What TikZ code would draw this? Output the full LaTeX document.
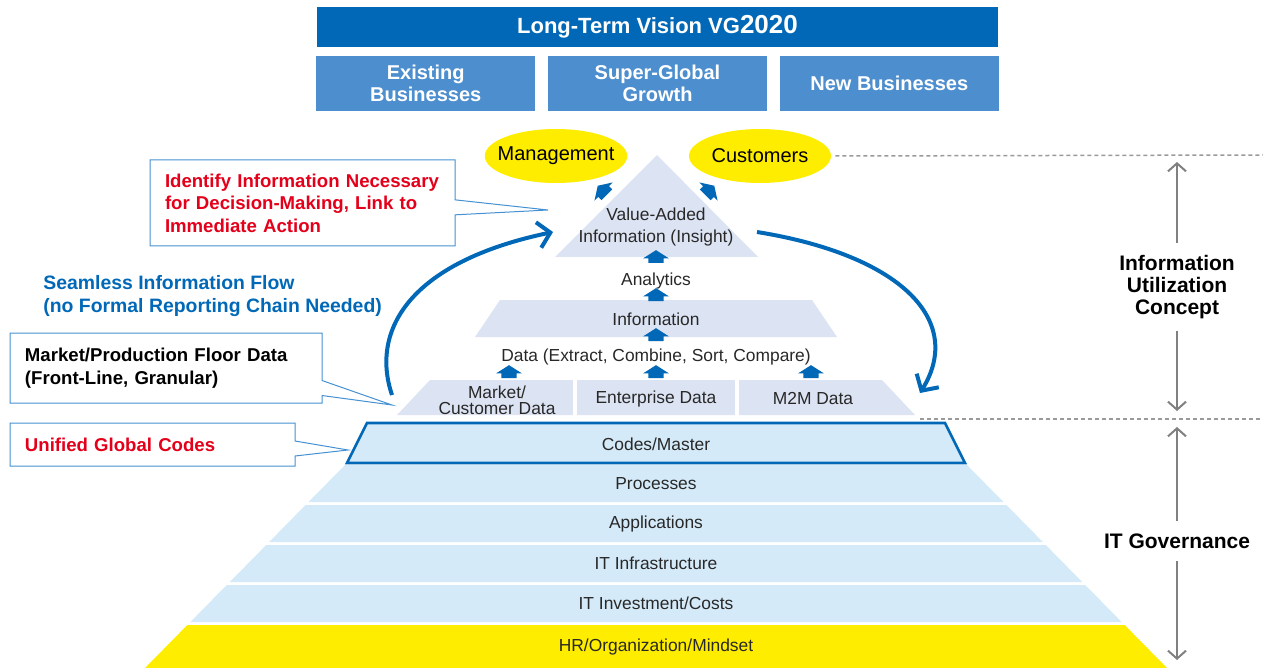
\documentclass[tikz,border=0pt]{standalone}
\usepackage{fontspec}
\setmainfont{Liberation Sans}
\usetikzlibrary{shapes.geometric,shapes.arrows,shapes.callouts,arrows.meta,positioning,calc}

\definecolor{vgblue}{RGB}{0,104,183}
\definecolor{boxblue}{RGB}{77,143,206}
\definecolor{lav}{RGB}{220,227,243}
\definecolor{itblue}{RGB}{213,234,248}
\definecolor{vgyellow}{RGB}{255,237,0}
\definecolor{vgred}{RGB}{228,0,26}
\definecolor{rimblue}{RGB}{70,145,210}
\definecolor{txtgray}{RGB}{40,40,40}
\definecolor{spangray}{RGB}{128,128,128}

\begin{document}
\begin{tikzpicture}[
  x=0.5pt,y=-0.5pt,
  vision/.style={fill=vgblue,text=white,font=\bfseries\fontsize{11}{13}\selectfont,minimum width=340.5pt,minimum height=20pt,inner sep=0pt},
  pillar/.style={fill=boxblue,text=white,font=\bfseries\fontsize{10}{11}\selectfont,minimum width=109.5pt,minimum height=27.5pt,align=center,inner sep=0pt},
  target/.style={ellipse,fill=vgyellow,minimum width=71pt,minimum height=27pt,font=\fontsize{10}{12}\selectfont,inner xsep=-4pt,inner ysep=0pt},
  layer/.style={font=\fontsize{8.7}{11}\selectfont,text=txtgray,align=center,inner sep=0pt},
  uparrow/.style={single arrow,fill=vgblue,inner xsep=1.8pt,inner ysep=3.6pt,single arrow head extend=2.6pt,single arrow tip angle=115,rotate=90},
  note/.style={rectangle callout,draw=rimblue,fill=white,line width=0.5pt,align=left,font=\bfseries\fontsize{9.3}{11.3}\selectfont,inner xsep=7.5pt,callout pointer width=7.5pt},
  flow/.style={vgblue,line width=2pt,-{Straight Barb[length=6pt,width=13pt]}},
  span/.style={spangray,line width=1pt,-{Straight Barb[length=4pt,width=9pt]}},
  side/.style={font=\bfseries\fontsize{10.5}{10.8}\selectfont,align=center,inner sep=6pt},
  guide/.style={spangray!80,line width=0.75pt,dash pattern=on 2pt off 1.5pt},
]
\useasboundingbox (0,0) rectangle (1263,668);

% vision header
\node[vision] (vg) at (657.5,27) {Long-Term Vision VG{\fontsize{13}{13}\selectfont 2020}};
\node[pillar] (sgg)   [below=4pt of vg]   {Super-Global\\Growth};
\node[pillar] (exist) [left=6pt of sgg]   {Existing\\Businesses};
\node[pillar] (newb)  [right=6pt of sgg]  {New Businesses};

% shapes of the two pyramids
\fill[lav] (657,155) -- (758,257) -- (555,257) -- cycle;
\fill[lav] (500,300) -- (812,300) -- (837,337) -- (475,337) -- cycle;
\fill[lav] (430,380) -- (882,380) -- (915,415) -- (397,415) -- cycle;
\draw[white,line width=2pt] (575,378) -- (575,417) (737,378) -- (737,417);

\foreach \yt/\yb/\lbl/\col in {465/502/Processes/itblue,505/542/Applications/itblue,
    545/582/IT Infrastructure/itblue,585/622/{IT Investment/Costs}/itblue,
    625/668/{HR/Organization/Mindset}/vgyellow}{
  \pgfmathsetmacro\xtl{803-0.985*\yt}
  \pgfmathsetmacro\xbl{803-0.985*\yb}
  \pgfmathsetmacro\xtr{1312-\xtl}
  \pgfmathsetmacro\xbr{1312-\xbl}
  \fill[\col] (\xtl,\yt) -- (\xtr,\yt) -- (\xbr,\yb) -- (\xbl,\yb) -- cycle;
  \node[layer] (band\yt) at (656,{(\yt+\yb)/2}) {\lbl};
}
\draw[vgblue,line width=1.3pt,fill=itblue] (367,423) -- (945,423) -- (965,463) -- (347,463) -- cycle;
\node[layer] (codes) at (656,444) {Codes/Master};

% top: insight and who uses it
\node[target] (mgmt) at (556,156) {Management};
\node[target] (cust) at (760,156) {Customers};
\node[layer] (insight) at (656,227) {Value-Added\\Information (Insight)};
\node[uparrow,rotate=45]  (toMgmt) at (604,192) {};
\node[uparrow,rotate=-45] (toCust) at (708,192) {};
\node[uparrow] (upInsight) at (656,259) {};
\node[layer] (analytics) at (656,281) {Analytics};
\node[uparrow] (upAnalytics) at (656,297) {};
\node[layer] (info) at (656,319) {Information};
\node[uparrow] (upInfo) at (656,337) {};
\node[layer] (data) at (656,357) {Data (Extract, Combine, Sort, Compare)};

% data sources
\node[layer,font=\fontsize{8.7}{8}\selectfont] (mkt) at (497,400) {Market/\\Customer Data};
\node[layer] (ent) at (656,399) {Enterprise Data};
\node[layer] (m2m) at (813,399) {M2M Data};
\foreach \x/\n in {509/upMkt,656/upEnt,811/upM2m}
  \node[uparrow] (\n) at (\x,374) {};

% flow around the pyramid
\coordinate (flowInL)  at (392,395);
\coordinate (flowInR)  at (553,232);
\coordinate (flowOutL) at (757,232);
\coordinate (flowOutR) at (920,393);
\draw[flow] (flowInL) .. controls (370,330) and (410,262) .. (flowInR);
\draw[flow] (flowOutL) .. controls (900,255) and (965,320) .. (flowOutR);
\node[anchor=west,align=left,inner sep=0pt,text=vgblue,font=\bfseries\fontsize{9.7}{11.3}\selectfont] (seam) at (43,296)
  {Seamless Information Flow\\(no Formal Reporting Chain Needed)};

% callouts
\coordinate (tipIdentify) at (548,210);
\coordinate (tipFloor)    at (392,405);
\coordinate (tipCodes)    at (348,450);
\node[note,text=vgred,text width=137.5pt,minimum height=43pt,callout absolute pointer={(tipIdentify)}] (identify) at (302.5,203)
  {Identify Information Necessary\\for Decision-Making, Link to\\Immediate Action};
\node[note,text width=141pt,minimum height=35pt,callout absolute pointer={(tipFloor)}] (floor) at (166,368)
  {Market/Production Floor Data\\(Front-Line, Granular)};
\node[note,text=vgred,text width=127.5pt,minimum height=21.5pt,callout absolute pointer={(tipCodes)}] (unified) at (152.5,444.5)
  {Unified Global Codes};

% right-hand scale
\coordinate (guideTop) at (1263,155);
\coordinate (guideMidL) at (920,419);
\coordinate (guideMid) at (1263,419);
\draw[guide] ([xshift=2pt]cust.east) -- (guideTop);
\draw[guide] (guideMidL) -- (guideMid);
\node[side] (iuc) at (1177,287) {Information\\Utilization\\Concept};
\node[side] (itg) at (1177,541) {IT Governance};
\coordinate (iucTop) at (1177,162);
\coordinate (iucBot) at (1177,411);
\coordinate (itgTop) at (1177,427);
\coordinate (itgBot) at (1177,660);
\draw[span] (iuc) -- (iucTop);
\draw[span] (iuc) -- (iucBot);
\draw[span] (itg) -- (itgTop);
\draw[span] (itg) -- (itgBot);
\end{tikzpicture}
\end{document}
